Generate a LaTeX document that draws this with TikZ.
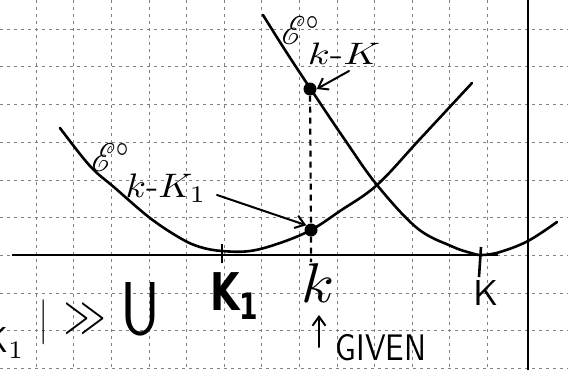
\documentclass[tikz,border=0pt]{standalone}
\usepackage{amsmath}
\usepackage{mathrsfs}
\usepackage{fontspec}
\newfontfamily\heavysans{DejaVu Sans}
\usetikzlibrary{arrows.meta}
\begin{document}
\begin{tikzpicture}[x=1pt,y=-1pt,
  gridline/.style={black!50, line width=0.6pt, dash pattern=on 3pt off 4pt},
  curve/.style={line width=2.6pt, line cap=round, line join=round},
  bigdot/.style={circle, fill=black, inner sep=0pt, minimum size=13pt},
  pointer/.style={line width=2pt, line cap=round, -{Straight Barb[length=9pt,width=13pt,line width=2pt]}},
  lbl/.style={inner sep=0pt},
]
\clip (0,0) rectangle (568,370);
\fill[white] (0,0) rectangle (568,370);
% grid
\foreach \i in {0,...,12} \draw[gridline] ({36+37.6*\i},0) -- ({36+37.6*\i},370);
\foreach \j in {0,...,9} \draw[gridline] (0,{29+37.7*\j}) -- (568,{29+37.7*\j});
% solid vertical line
\draw[line width=2pt] (528,0) -- (528,370);
% axis
\coordinate (axL) at (12,255);
\coordinate (axR) at (498,255);
\draw[line width=2.6pt] (axL) -- (axR);
% parabola k-K1
\draw[curve] plot[smooth, tension=0.6] coordinates {(60,128) (90,166) (115,188) (150,218) (180,238) (200,247) (222,251) (250,251) (280,243) (311,230) (340,211) (377,185) (420,139) (472,83)};
% parabola k-K
\draw[curve] plot[smooth, tension=0.6] coordinates {(263,15) (285,50) (310,88) (345,140) (377,185) (417,228) (451,246) (471,253) (482,255) (500,252) (528,241) (557,222)};
% points
\node[bigdot] (P2) at (310,89) {};
\node[bigdot] (P1) at (311,230) {};
\coordinate (base) at (311,262);
\draw[line width=2.2pt, dash pattern=on 6pt off 5pt] (P2) -- (P1) -- (base);
% ticks
\coordinate (t1a) at (222,244);
\coordinate (t1b) at (222,263);
\draw[line width=2pt] (t1a) -- (t1b);
\coordinate (t3a) at (481,247);
\coordinate (t3b) at (479,277);
\draw[line width=2.6pt] (t3a) -- (t3b);
% labels top
\node[lbl, xscale=3.2, yscale=4] (E2) at (301,30) {$\mathscr{E}^{\circ}$};
\node[lbl, xscale=4, yscale=3.1] (E2s) at (344,54) {$k$-$K$};
\coordinate (a2) at (349,71);
\draw[pointer] (a2) -- (P2.east);
% labels lower
\node[lbl, xscale=3.2, yscale=4] (E1) at (111,157) {$\mathscr{E}^{\circ}$};
\node[lbl, xscale=3.7, yscale=3.4] (E1s) at (166,188) {$k$-$K_1$};
\coordinate (a1) at (217,195);
\draw[pointer] (a1) -- (P1.north west);
% axis labels
\node[lbl, xscale=3.8, yscale=5.2, font=\heavysans\bfseries] (K1) at (235,296) {K$_{\text{1}}$};
\node[lbl, xscale=6, yscale=5.6] (kk) at (318,283) {$k$};
\node[lbl, scale=3.6, font=\sffamily] (KK) at (486,293) {K};
% given
\coordinate (g0) at (319,347);
\coordinate (g1) at (319,315);
\draw[pointer] (g0) -- (g1);
\node[lbl, xscale=3.1, yscale=3.7, font=\sffamily] (GIVEN) at (381,348) {GIVEN};
% bottom-left inequality (cut off at the left edge, as in the sketch)
\node[lbl, scale=3.6, font=\sffamily] (L1) at (4,343) {K$_1$};
\node[lbl, xscale=3, yscale=4.5] (bar) at (44,322) {$|$};
\node[lbl, xscale=3.5, yscale=5.5] (gg) at (85,319) {$>\!\!>$};
\node[lbl, xscale=5.8, yscale=7.5, font=\sffamily] (U) at (140,309) {U};
\end{tikzpicture}
\end{document}
